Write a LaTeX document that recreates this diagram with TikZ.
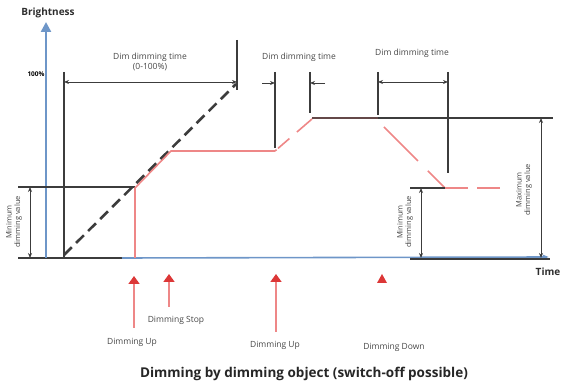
\documentclass[tikz,border=0pt]{standalone}
\usepackage{fontspec}
\setmainfont{Open Sans}
\usetikzlibrary{arrows.meta}
\definecolor{axisblue}{RGB}{110,150,200}
\definecolor{linegray}{RGB}{60,60,60}
\definecolor{rampred}{RGB}{238,135,135}
\definecolor{cmdred}{RGB}{220,55,55}
\definecolor{topbrown}{RGB}{100,72,72}

\tikzset{
  grayline/.style={draw=linegray, line width=1.4pt},
  barline/.style={draw=linegray, line width=2.6pt},
  dimarrow/.style={draw=linegray, line width=0.9pt, {Stealth[length=5pt,width=4pt]}-{Stealth[length=5pt,width=4pt]}},
  dimin/.style={draw=linegray, line width=0.9pt, -{Stealth[length=5pt,width=4pt]}},
  ramp/.style={draw=rampred, line width=1.6pt},
  lbl/.style={font=\fontsize{8.5}{10}\selectfont, text=black!72, align=center, inner sep=0pt},
  boldlbl/.style={font=\bfseries\fontsize{10}{12}\selectfont, text=black!82, inner sep=0pt},
  cmdarrow/.style={draw=rampred, line width=1.8pt, -{Triangle[length=8pt,width=11pt,color=cmdred]}},
}

\begin{document}
\begin{tikzpicture}[x=1pt,y=-1pt]
\useasboundingbox (0,0) rectangle (563,387);

% axes
\coordinate (org) at (46,258);
\coordinate (ytop) at (46,22);
\coordinate (t0) at (18,258);
\coordinate (t1) at (122,258);
\coordinate (t2) at (549,257);
\draw[grayline] (t0) -- (t1);
\draw[draw=axisblue, line width=1.6pt, -{Triangle[length=6pt,width=4pt]}] (t1) -- (t2);
\draw[draw=axisblue, line width=2.4pt, -{Triangle[length=10pt,width=10pt]}] (org) -- (ytop);
\node[boldlbl] (bright) at (48,13) {Brightness};
\node[boldlbl] (time) at (548,272) {Time};
\node[font=\bfseries\fontsize{6.5}{7}\selectfont, inner sep=0pt] (full) at (36,74) {100\%};

% dim dimming time 0-100%
\coordinate (lv0) at (64,72);
\coordinate (lv1) at (64,258);
\coordinate (b0) at (237,40);
\coordinate (b1) at (237,90);
\coordinate (d0) at (64,255);
\coordinate (d1) at (236,84);
\draw[grayline] (lv0) -- (lv1);
\draw[barline] (b0) -- (b1);
\draw[dimarrow] (64,82) -- (237,82);
\draw[draw=linegray, line width=2.6pt, dash pattern=on 11pt off 6pt] (d0) -- (d1);
\node[lbl] (dimfull) at (150,62) {Dim dimming time\\(0-100\%)};

% minimum value, left
\coordinate (m0) at (18,187);
\coordinate (m1) at (135,187);
\draw[grayline] (m0) -- (m1);
\draw[dimarrow] (30,187) -- (30,258);
\node[lbl, font=\fontsize{7.5}{8.5}\selectfont, rotate=90] (minleft) at (14,222) {Minimum\\dimming value};

% brightness curve
\coordinate (r0) at (135,258);
\coordinate (r1) at (135,188);
\coordinate (r2) at (171,151);
\coordinate (r3) at (275,151);
\coordinate (r4) at (312,119);
\draw[ramp] (r0) -- (r1) -- (r2) -- (r3);
\draw[ramp, dash pattern=on 2pt off 2pt on 15pt off 10pt on 20pt] (r3) -- (r4);

% top level
\coordinate (h0) at (312,118);
\coordinate (h1) at (378,118);
\coordinate (h2) at (553,118);
\draw[draw=topbrown, line width=1.6pt] (h0) -- (h1);
\draw[grayline] (h1) -- (h2);

% dim dimming time, middle
\draw[grayline] (275,72) -- (275,148);
\draw[barline] (310,72) -- (310,113);
\draw[dimin] (262,83) -- (275,83);
\draw[dimin] (325,83) -- (310,83);
\node[lbl] (dimmid) at (299,57) {Dim dimming time};

% dim dimming time, right
\draw[barline] (378,72) -- (378,115);
\draw[grayline] (448,72) -- (448,173);
\draw[dimarrow] (378,82) -- (448,82);
\node[lbl] (dimright) at (412,53) {Dim dimming time};

% dimming down
\coordinate (s0) at (384,127);
\coordinate (s1) at (445,188);
\coordinate (s2) at (500,188);
\draw[ramp, dash pattern=on 48pt off 14pt on 30pt] (s0) -- (s1);
\draw[ramp, dash pattern=on 23pt off 9pt on 30pt] (s1) -- (s2);
\draw[grayline] (410,188) -- (s1);

% minimum value, right
\draw[grayline] (410,259) -- (550,259);
\draw[dimarrow] (421,188) -- (421,258);
\node[lbl, font=\fontsize{7.5}{8.5}\selectfont, rotate=90] (minright) at (405,222) {Minimum\\dimming value};

% maximum value
\draw[dimarrow] (541,118) -- (541,258);
\node[lbl, font=\fontsize{7.5}{8.5}\selectfont, rotate=90] (maxright) at (524,190) {Maximum\\dimming value};

% commands
\draw[cmdarrow] (134,328) -- (134,276);
\draw[cmdarrow] (169,307) -- (169,274);
\draw[cmdarrow] (276,332) -- (276,274);
\fill[cmdred] (382,274) -- (377,283) -- (387,283) -- cycle;
\node[lbl] (up1) at (132,342) {Dimming Up};
\node[lbl] (stop) at (176,320) {Dimming Stop};
\node[lbl] (up2) at (275,345) {Dimming Up};
\node[lbl] (down) at (394,347) {Dimming Down};

\node[font=\bfseries\fontsize{13.5}{15}\selectfont, text=black!85] (caption) at (304,374) {Dimming by dimming object (switch-off possible)};
\end{tikzpicture}
\end{document}
